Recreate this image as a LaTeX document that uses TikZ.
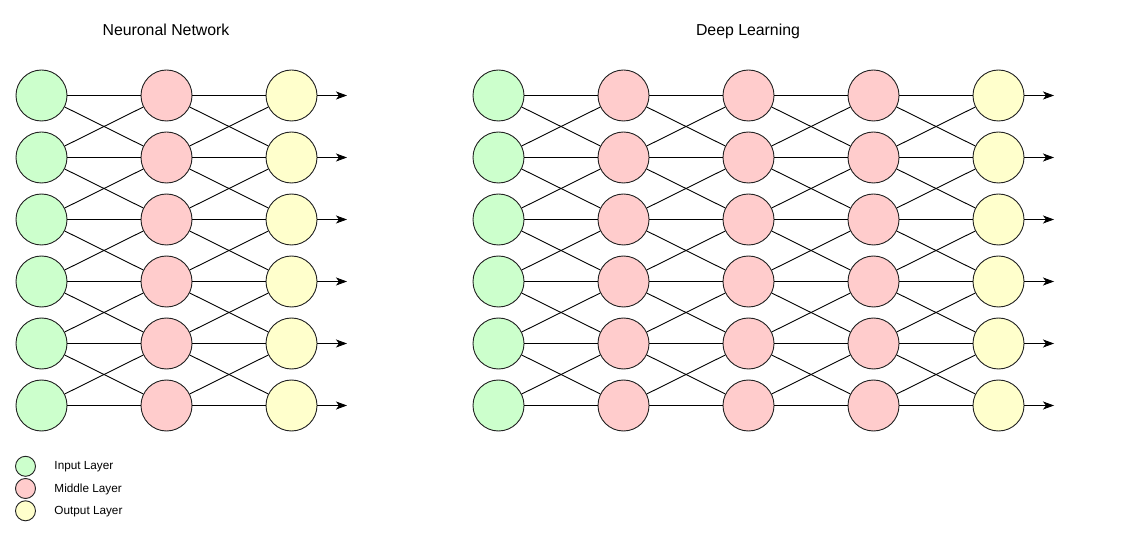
\documentclass[tikz,border=0pt]{standalone}
\usepackage{fontspec}
\setmainfont{Liberation Sans}
\usetikzlibrary{arrows.meta}
\definecolor{inL}{HTML}{CCFFCC}
\definecolor{midL}{HTML}{FFCCCC}
\definecolor{outL}{HTML}{FFFFCC}
\definecolor{edgeC}{HTML}{222222}
\tikzset{
  neuron/.style={circle,draw=edgeC,line width=0.9bp,minimum size=51bp,inner sep=0pt},
  legdot/.style={circle,draw=edgeC,line width=0.9bp,minimum size=20bp,inner sep=0pt},
  conn/.style={draw=black,line width=0.9bp},
  outarr/.style={draw=black,line width=0.9bp,-{Stealth[length=11bp,width=8bp,inset=3bp]}},
  titletext/.style={font=\fontsize{15.9}{18}\selectfont,inner sep=0pt,anchor=base},
  legtext/.style={font=\fontsize{11.8}{14}\selectfont,inner sep=0pt,anchor=base west}
}
\begin{document}
\begin{tikzpicture}[x=1bp,y=-1bp]
\useasboundingbox (0,0) rectangle (1121,542);
\fill[white] (0,0) rectangle (1121,542);
% titles
\node[titletext] (t1) at (166,36) {Neuronal Network};
\node[titletext] (t2) at (748,36) {Deep Learning};
% left network
\foreach \c/\x/\f in {1/41.5/inL,2/166.5/midL,3/291.5/outL}
  \foreach \r in {1,...,6}
    \node[neuron,fill=\f] (n\c-\r) at (\x,{33.5+62*\r}) {};
\foreach \c/\n in {1/2,2/3}
  \foreach \r in {1,...,6}
    \foreach \s in {1,...,6}{
      \pgfmathtruncatemacro\dd{abs(\r-\s)}
      \ifnum\dd<2 \draw[conn] (n\c-\r) -- (n\n-\s); \fi
    }
\foreach \r in {1,...,6}{
  \coordinate (ta\r) at (347,{33.5+62*\r});
  \draw[outarr] (n3-\r) -- (ta\r);
}
% right network
\foreach \c/\x/\f in {1/498.5/inL,2/623.5/midL,3/748.5/midL,4/873.5/midL,5/998.5/outL}
  \foreach \r in {1,...,6}
    \node[neuron,fill=\f] (d\c-\r) at (\x,{33.5+62*\r}) {};
\foreach \c/\n in {1/2,2/3,3/4,4/5}
  \foreach \r in {1,...,6}
    \foreach \s in {1,...,6}{
      \pgfmathtruncatemacro\dd{abs(\r-\s)}
      \ifnum\dd<2 \draw[conn] (d\c-\r) -- (d\n-\s); \fi
    }
\foreach \r in {1,...,6}{
  \coordinate (tb\r) at (1054,{33.5+62*\r});
  \draw[outarr] (d5-\r) -- (tb\r);
}
% legend
\node[legdot,fill=inL] (l1) at (25.5,466.3) {};
\node[legdot,fill=midL] (l2) at (25.5,488.5) {};
\node[legdot,fill=outL] (l3) at (25.5,510.8) {};
\node[legtext] (lt1) at (54.3,469.6) {Input Layer};
\node[legtext] (lt2) at (54.3,492) {Middle Layer};
\node[legtext] (lt3) at (54.3,514.3) {Output Layer};
\end{tikzpicture}
\end{document}
